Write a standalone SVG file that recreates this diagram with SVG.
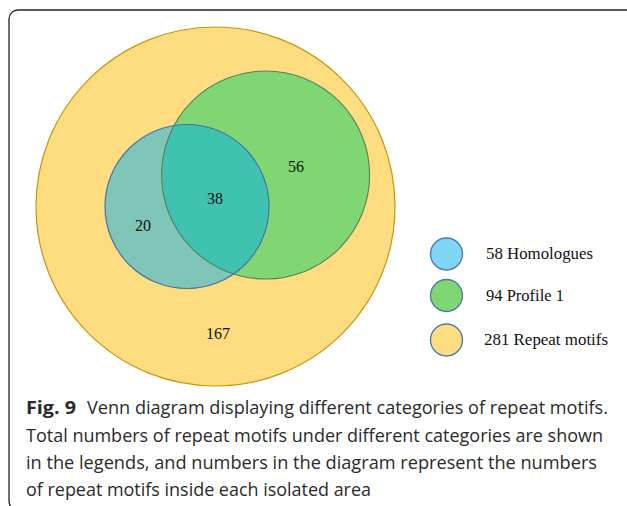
<svg xmlns="http://www.w3.org/2000/svg" width="627" height="506" viewBox="0 0 627 506">
<style>
.num{font-family:"Liberation Serif","Times New Roman",serif;font-size:16px;fill:#111;text-anchor:middle}
.leg{font-family:"Liberation Serif","Times New Roman",serif;font-size:16.5px;fill:#111}
.cap{font-family:"Open Sans","Noto Sans",sans-serif;font-size:18.5px;fill:#2a2a2a}
.lc{stroke:#4a78ac;stroke-width:1.3}
</style>
<defs>
<clipPath id="clipBlue"><circle cx="187" cy="206.5" r="82"/></clipPath>
</defs>
<rect x="9" y="10" width="700" height="500" rx="9" fill="#fff" stroke="#222" stroke-width="1.3"/>
<g id="venn">
<g id="repeat"><circle cx="215.5" cy="206.5" r="179.5" fill="#fedd80" stroke="#c8960f" stroke-width="1.2"/></g>
<g id="profile"><circle cx="265.6" cy="175" r="104" fill="#80d673"/></g>
<g id="homologues"><circle cx="187" cy="206.5" r="82" fill="#80c6b8"/>
<circle cx="265.6" cy="175" r="104" fill="#40c2b0" clip-path="url(#clipBlue)"/></g>
<circle cx="265.6" cy="175" r="104" fill="none" stroke="#4e8260" stroke-width="1.1"/>
<circle cx="187" cy="206.5" r="82" fill="none" stroke="#4a72a8" stroke-width="1.2"/>
<text class="num" x="296" y="172">56</text>
<text class="num" x="215" y="204">38</text>
<text class="num" x="143" y="231">20</text>
<text class="num" x="218" y="339">167</text>
</g>
<g id="legend-homologues"><ellipse class="lc" cx="446.5" cy="254" rx="16" ry="16" fill="#80d6f5"/><text class="leg" x="486" y="259" textLength="107" lengthAdjust="spacingAndGlyphs">58 Homologues</text></g>
<g id="legend-profile"><ellipse class="lc" cx="446.5" cy="295.5" rx="16" ry="16" fill="#80d673"/><text class="leg" x="486" y="301">94 Profile 1</text></g>
<g id="legend-repeat"><ellipse class="lc" cx="446.5" cy="340" rx="16" ry="16" fill="#fedd80"/><text class="leg" x="484" y="345" textLength="124" lengthAdjust="spacingAndGlyphs">281 Repeat motifs</text></g>
<g id="caption">
<text class="cap" x="26" y="414" font-weight="bold" textLength="50" lengthAdjust="spacingAndGlyphs">Fig. 9</text>
<text class="cap" x="87" y="414" textLength="521" lengthAdjust="spacingAndGlyphs">Venn diagram displaying different categories of repeat motifs.</text>
<text class="cap" x="26" y="441.5" textLength="577" lengthAdjust="spacingAndGlyphs">Total numbers of repeat motifs under different categories are shown</text>
<text class="cap" x="26" y="469" textLength="571" lengthAdjust="spacingAndGlyphs">in the legends, and numbers in the diagram represent the numbers</text>
<text class="cap" x="26" y="496" textLength="345" lengthAdjust="spacingAndGlyphs">of repeat motifs inside each isolated area</text>
</g>
</svg>
